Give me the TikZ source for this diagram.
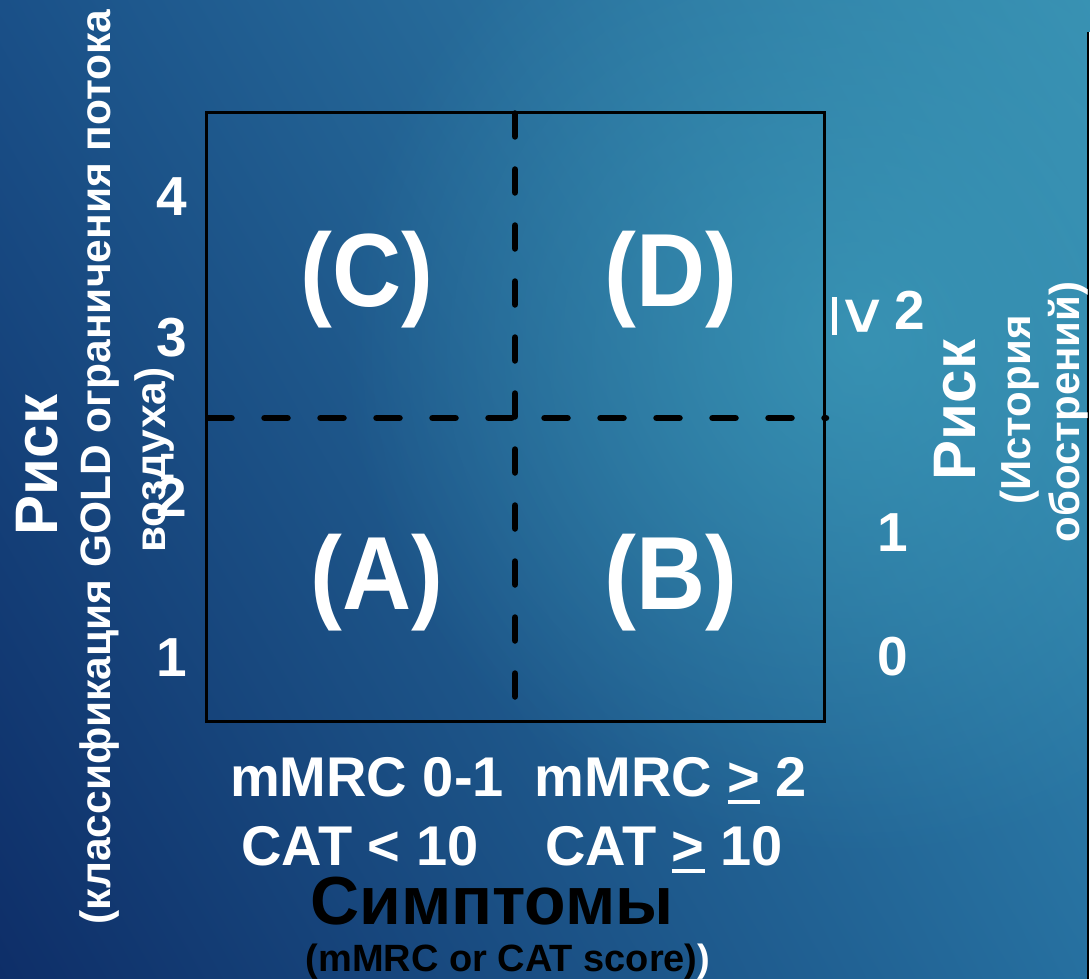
\documentclass[tikz,border=0pt]{standalone}
\usepackage{fontspec}
\usetikzlibrary{shadings,fadings}
\setmainfont{Liberation Sans}
\newfontfamily\narrowfont{Liberation Sans}[FakeStretch=0.92]
\newcommand\ulx[1]{\setbox0\hbox{#1}\leavevmode\rlap{\rule[-0.15em]{\wd0}{0.085em}}\box0\relax}
\definecolor{bgUL}{RGB}{26,80,136}
\definecolor{bgUR}{RGB}{56,144,178}
\definecolor{bgLL}{RGB}{14,46,104}
\definecolor{bgLR}{RGB}{38,112,160}
\definecolor{glowcol}{RGB}{62,160,188}
\tikzfading[name=glowfade, inner color=transparent!35, outer color=transparent!100]
\tikzset{
  quad/.style={text=white, inner sep=0pt, font=\narrowfont\bfseries\fontsize{104}{104}\selectfont},
  num/.style={text=white, inner sep=0pt, font=\bfseries\fontsize{55}{55}\selectfont},
  bigrisk/.style={text=white, inner sep=0pt, rotate=90, font=\bfseries\fontsize{60}{60}\selectfont},
  subrisk/.style={text=white, inner sep=0pt, rotate=90, font=\bfseries\fontsize{42.5}{42.5}\selectfont},
  subriskr/.style={text=white, inner sep=0pt, rotate=90, font=\bfseries\fontsize{42}{42}\selectfont},
  scalelbl/.style={text=white, inner sep=0pt, font=\bfseries\fontsize{56}{56}\selectfont},
  frame/.style={draw=black, line width=3pt},
  divider/.style={draw=black, line width=6.5pt, line cap=round, dash pattern=on 23pt off 33pt},
}
\begin{document}
\begin{tikzpicture}[x=1pt,y=-1pt]
\useasboundingbox (0,0) rectangle (1090,979);
\shade[upper left=bgUL, upper right=bgUR, lower left=bgLL, lower right=bgLR] (0,0) rectangle (1090,979);
\begin{scope}
\clip (0,0) rectangle (1090,979);
\fill[glowcol, path fading=glowfade] (860,340) circle[radius=520];
\end{scope}
\fill[white] (1089,32) rectangle (1090,979);
\draw[black, line width=2pt] (1088,32) -- (1088,979);

% frame and dividers
\coordinate (tl) at (206.5,112.5);
\coordinate (br) at (824,721.5);
\coordinate (vt) at (515,113.5);
\coordinate (vb) at (515,721);
\coordinate (hl) at (208.5,418);
\coordinate (hr) at (826,418);
\draw[frame] (tl) rectangle (br);
\draw[divider] (vt) -- (vb);
\draw[divider] (hl) -- (hr);

% quadrant labels
\node[quad] (C) at (367,280) {(C)};
\node[quad] (D) at (671,280) {(D)};
\node[quad] (A) at (377,583) {(A)};
\node[quad] (B) at (671,583) {(B)};

% left axis
\node[bigrisk] (lrisk) at (37,465) {Риск};
\node[subrisk] (lsub1) at (100,467) {(классификация GOLD ограничения потока};
\node[subrisk] (lsub2) at (155,460) {воздуха)};
\node[num] (l4) at (172,197) {4};
\node[num] (l3) at (172,338) {3};
\node[num] (l2) at (172,497) {2};
\node[num] (l1) at (172,658) {1};

% right axis
\node[num, rotate=-90, font=\bfseries\fontsize{64}{64}\selectfont] (rge) at (856,316) {\ulx{>}};
\node[num] (r2) at (910,310) {2};
\node[num] (r1) at (893,533) {1};
\node[num] (r0) at (893,657) {0};
\node[bigrisk] (rrisk) at (955,410) {Риск};
\node[subriskr] (rsub1) at (1020,410) {(История};
\node[subriskr] (rsub2) at (1068,412) {обострений)};

% bottom axis
\node[scalelbl, anchor=base] (m1) at (367,796) {mMRC 0-1};
\node[scalelbl, anchor=base] (m2) at (671,796) {mMRC \ulx{>} 2};
\node[scalelbl, anchor=base] (c1) at (360,865) {CAT < 10};
\node[scalelbl, anchor=base] (c2) at (664,865) {CAT \ulx{>} 10};
\node[inner sep=0pt, text=black, anchor=base, text height=0.7em, font=\bfseries\fontsize{68}{68}\selectfont] (symp) at (492,924) {Симптомы};
\node[inner sep=0pt, text=black, anchor=base, font=\bfseries\fontsize{38}{38}\selectfont] (score) at (508,971) {(mMRC or CAT score)\textcolor{white}{)}};
\end{tikzpicture}
\end{document}
